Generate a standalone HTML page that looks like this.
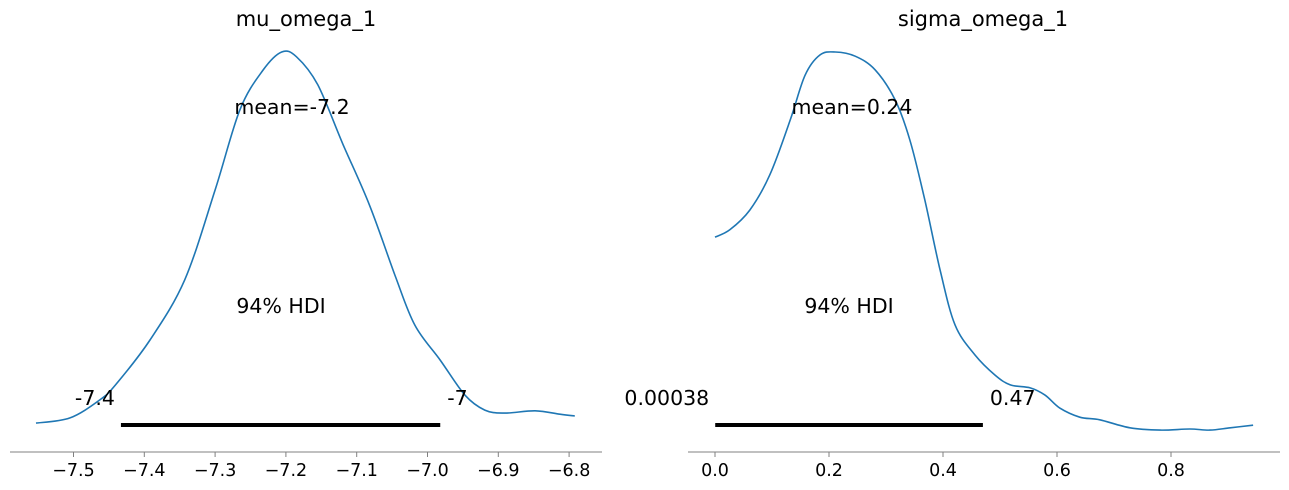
<!DOCTYPE html>
<html><head><meta charset="utf-8"><style>
html,body{margin:0;padding:0;background:#fff;}
svg{display:block;font-family:"DejaVu Sans","Liberation Sans",sans-serif;}
</style></head><body>
<svg id="chart" width="1289" height="490" viewBox="0 0 1289 490"></svg>
<script>
// Left panel data (mu_omega_1)
const leftX = [-7.553,-7.505,-7.463,-7.441,-7.392,-7.343,-7.300,-7.265,-7.232,-7.206,-7.185,-7.155,-7.119,-7.082,-7.046,-7.018,-6.982,-6.947,-6.919,-6.891,-6.848,-6.813,-6.792];
const leftD = [0.005,0.019,0.067,0.107,0.228,0.389,0.63,0.845,0.952,1.0,0.987,0.912,0.751,0.59,0.402,0.268,0.174,0.08,0.04,0.032,0.038,0.029,0.024];
const leftTicks = [-7.5,-7.4,-7.3,-7.2,-7.1,-7.0,-6.9,-6.8];
const leftTickLabels = ["−7.5","−7.4","−7.3","−7.2","−7.1","−7.0","−6.9","−6.8"];
const leftHdi = [-7.433,-6.982];
const leftHdiLabels = ["-7.4","-7"];
// Right panel data (sigma_omega_1)
const rightX = [0.0,0.026,0.061,0.096,0.132,0.158,0.184,0.211,0.246,0.281,0.316,0.342,0.368,0.395,0.421,0.456,0.491,0.518,0.553,0.579,0.605,0.640,0.675,0.728,0.781,0.833,0.868,0.904,0.944];
const rightD = [0.513,0.532,0.584,0.676,0.821,0.939,0.992,1.0,0.989,0.953,0.874,0.768,0.611,0.426,0.282,0.203,0.15,0.124,0.116,0.097,0.063,0.039,0.032,0.011,0.005,0.008,0.005,0.011,0.018];
const rightTicks = [0.0,0.2,0.4,0.6,0.8];
const rightTickLabels = ["0.0","0.2","0.4","0.6","0.8"];
const rightHdi = [0.00038,0.47];
const rightHdiLabels = ["0.00038","0.47"];

const NS="http://www.w3.org/2000/svg";
const svg=document.getElementById('chart');
function mk(tag,attrs,parent){const e=document.createElementNS(NS,tag);for(const k in attrs)e.setAttribute(k,attrs[k]);(parent||svg).appendChild(e);return e;}
function smooth(pts){
  let d='M'+pts[0][0].toFixed(1)+','+pts[0][1].toFixed(1);
  for(let i=0;i<pts.length-1;i++){
    const p0=pts[i-1]||pts[i],p1=pts[i],p2=pts[i+1],p3=pts[i+2]||p2;
    const c1=[p1[0]+(p2[0]-p0[0])/6,p1[1]+(p2[1]-p0[1])/6];
    const c2=[p2[0]-(p3[0]-p1[0])/6,p2[1]-(p3[1]-p1[1])/6];
    d+='C'+c1[0].toFixed(1)+','+c1[1].toFixed(1)+' '+c2[0].toFixed(1)+','+c2[1].toFixed(1)+' '+p2[0].toFixed(1)+','+p2[1].toFixed(1);
  }
  return d;
}
function panel(o){
  const g=mk('g',{});
  
  
  const sx=v=>o.x0px+(v-o.x0)*o.pxPer;
  const sy=d=>o.zeroY-d*(o.zeroY-52);
  const ax=mk('line',{x1:o.axL,x2:o.axR,y1:452,y2:452,stroke:'#808080','stroke-width':1},g);
  
  
  o.ticks.forEach((t,i)=>{
    const x=sx(t);
    const tk=mk('line',{x1:x,x2:x,y1:452,y2:457,stroke:'#808080','stroke-width':1},g);
    
    
    const tl=mk('text',{x:x,y:476,'text-anchor':'middle','font-size':17.5,fill:'#000'},g);
    tl.textContent=o.tickLabels[i];
    
    
  });
  const pts=o.xs.map((v,i)=>[sx(v),sy(o.ds[i])]);
  const p=mk('path',{d:smooth(pts),fill:'none',stroke:'#1f77b4','stroke-width':1.6},g);
  
  
  const h=mk('line',{x1:sx(o.hdi[0]),x2:sx(o.hdi[1]),y1:425,y2:425,stroke:'#000','stroke-width':4},g);
  
  
  o.hdi.forEach((v,i)=>{
    const t=mk('text',{x:sx(v)+(i?7:-6),y:405,'text-anchor':i?'start':'end','font-size':20.5,fill:'#000'},g);
    t.textContent=o.hdiLabels[i];
    
    
  });
  const ti=mk('text',{x:o.titleX,y:26,'text-anchor':'middle','font-size':21,fill:'#000'},g);
  ti.textContent=o.title;
  
  
  const mt=mk('text',{x:o.meanX,y:114,'text-anchor':'middle','font-size':20.5,fill:'#000'},g);
  mt.textContent=o.mean;
  
  
  const ht=mk('text',{x:o.hdiTxtX,y:313,'text-anchor':'middle','font-size':20.5,fill:'#000'},g);
  ht.textContent='94% HDI';
  
  
}
panel({name:'mu-omega-1-panel',x0:-7.5,x0px:73.5,pxPer:708,zeroY:425,axL:10,axR:602,ticks:leftTicks,tickLabels:leftTickLabels,xs:leftX,ds:leftD,hdi:leftHdi,hdiLabels:leftHdiLabels,title:'mu_omega_1',titleX:306,mean:'mean=-7.2',meanX:292,hdiTxtX:281});
panel({name:'sigma-omega-1-panel',x0:0,x0px:715,pxPer:570,zeroY:432,axL:688,axR:1280,ticks:rightTicks,tickLabels:rightTickLabels,xs:rightX,ds:rightD,hdi:rightHdi,hdiLabels:rightHdiLabels,title:'sigma_omega_1',titleX:983,mean:'mean=0.24',meanX:852,hdiTxtX:849});
</script>
</body></html>
